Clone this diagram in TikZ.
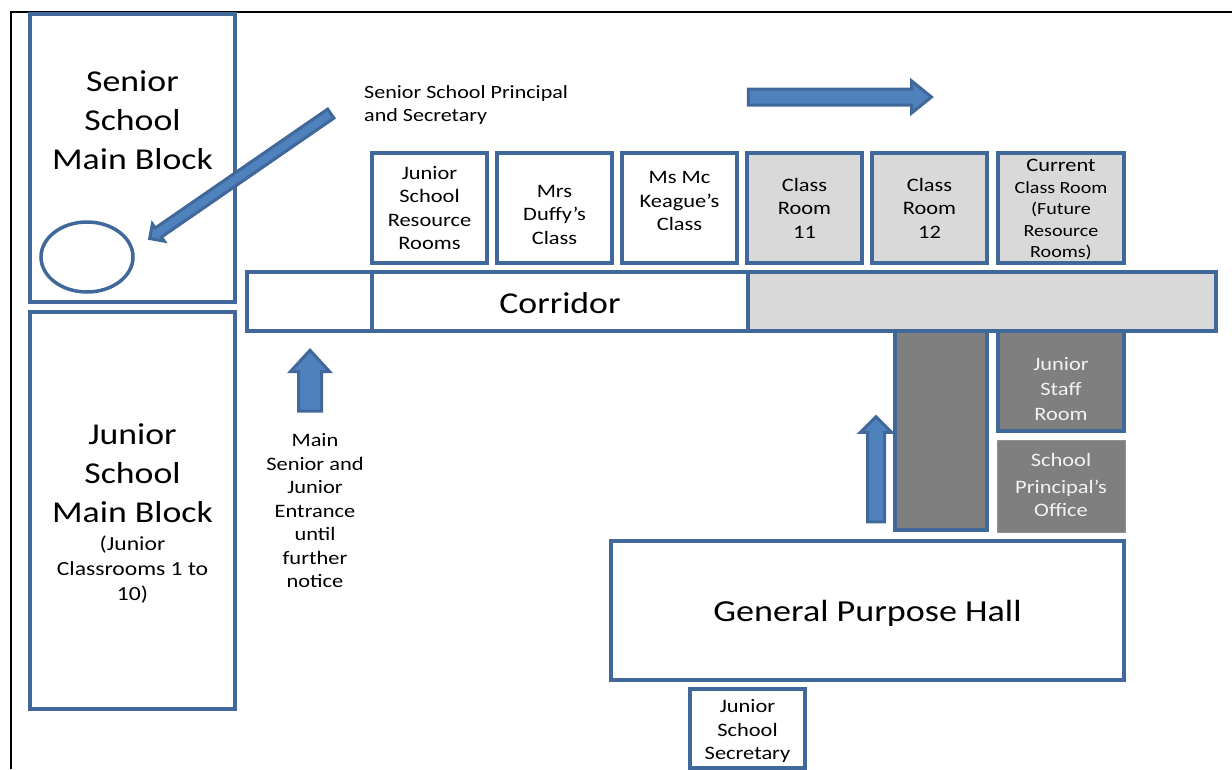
\documentclass[tikz,border=0pt]{standalone}
\usepackage{fontspec}
\setmainfont[FakeStretch=1.18]{Carlito}
\usetikzlibrary{shapes.geometric}
\usetikzlibrary{shapes.arrows}
\definecolor{roomline}{HTML}{41689A}
\definecolor{arrowfill}{HTML}{4F81BD}
\definecolor{lightroom}{HTML}{D9D9D9}
\definecolor{darkroom}{HTML}{7F7F7F}
\tikzset{
    room/.style={draw=roomline, line width=3.5pt, rectangle, fill=white, outer sep=0pt, inner sep=0pt, align=center, font=\fontsize{19}{23.5}\selectfont},
    bigtext/.style={align=center, inner sep=0pt, font=\fontsize{30.3}{39}\selectfont},
    smalltext/.style={align=center, inner sep=0pt, font=\fontsize{19}{23.5}\selectfont},
    blockarrow/.style={shape=single arrow, draw=roomline, line width=3pt, fill=arrowfill, inner xsep=0pt, outer sep=0pt, shape border uses incircle=false}
}
\begin{document}
\begin{tikzpicture}[x=1pt, y=-1pt]
    \useasboundingbox (0, 0) rectangle (1232, 769);

    % The frame
    \coordinate (framebottom) at (10.5, 769);
    \coordinate (framecorner) at (10.5, 12);
    \coordinate (frameright) at (1232, 12);
    \draw[line width=2pt] (framebottom) -- (framecorner) -- (frameright);

    % The main blocks
    \node[room, minimum width=205pt, minimum height=288pt] (seniorblock) at (132.5, 158) {};
    \node[bigtext] (seniorlabel) at (132.5, 120) {Senior\\School\\Main Block};
    \draw[roomline, line width=3.5pt, fill=white] (87, 257) ellipse (46 and 35);
    \node[room, minimum width=205pt, minimum height=397pt] (juniorblock) at (132.5, 510.5) {};
    \node[bigtext] (juniorlabel) at (132.5, 473) {Junior\\School\\Main Block};
    \node[smalltext, font=\fontsize{20}{25}\selectfont] (juniornote) at (132.5, 570) {(Junior\\Classrooms 1 to\\10)};

    % The class rooms
    \node[room, minimum width=115pt, minimum height=110pt] (resource) at (429.5, 208) {Junior\\School\\Resource\\Rooms};
    \node[room, minimum width=115pt, minimum height=110pt] (duffy) at (554.5, 208) {};
    \node[smalltext] (duffylabel) at (554.5, 214.5) {Mrs\\Duffy’s\\Class};
    \node[room, minimum width=115pt, minimum height=110pt] (keague) at (679.5, 208) {};
    \node[smalltext] (keaguelabel) at (679.5, 201) {Ms Mc\\Keague’s\\Class};
    \node[room, fill=lightroom, minimum width=115pt, minimum height=110pt] (eleven) at (804.5, 208) {Class\\Room\\11};
    \node[room, fill=lightroom, minimum width=115pt, minimum height=110pt] (twelve) at (929.5, 208) {Class\\Room\\12};
    \node[room, fill=lightroom, minimum width=126pt, minimum height=110pt] (current) at (1061, 208) {};
    \node[smalltext, font=\fontsize{17}{21.5}\selectfont] (currentlabel) at (1061, 210) {{\fontsize{19}{21.5}\selectfont Current}\\Class Room\\(Future\\Resource\\Rooms)};

    % The corridor
    \node[room, minimum width=125pt, minimum height=59pt] (corridorleft) at (309.5, 301.5) {};
    \node[room, minimum width=376pt, minimum height=59pt] (corridor) at (560, 301.5) {};
    \node[bigtext] (corridorlabel) at (560, 303.5) {Corridor};
    \node[room, fill=lightroom, minimum width=468pt, minimum height=59pt] (corridorright) at (982, 301.5) {};

    % The grey rooms
    \node[room, fill=darkroom, minimum width=92pt, minimum height=199pt] (passage) at (941, 430.5) {};
    \node[room, fill=darkroom, minimum width=126pt, minimum height=100pt] (staffroom) at (1061, 381) {};
    \node[smalltext, text=white!95!black, font=\fontsize{19}{25}\selectfont] (stafflabel) at (1061, 389) {Junior\\Staff\\Room};
    \node[room, draw=darkroom!85!white, line width=1pt, fill=darkroom, minimum width=128pt, minimum height=92pt] (principal) at (1061, 486) {};
    \node[smalltext, text=white!95!black] (officelabel) at (1061, 485) {School\\[3pt]Principal’s\\Office};

    % The hall and the secretary
    \node[room, minimum width=513pt, minimum height=139pt] (hall) at (867.5, 610.5) {};
    \node[bigtext, font=\fontsize{30.6}{39}\selectfont] (halllabel) at (867.5, 613) {General Purpose Hall};
    \node[room, minimum width=115pt, minimum height=79pt] (secretary) at (747.5, 728.5) {};
    \node[smalltext] (secretarylabel) at (747.5, 731) {Junior\\School\\Secretary};

    % The labels
    \node[smalltext, align=left, anchor=west, font=\fontsize{18.7}{23.5}\selectfont] (principallabel) at (364, 105) {Senior School Principal\\and Secretary};
    \node[smalltext] (entrancelabel) at (315, 511) {Main\\Senior and\\Junior\\Entrance\\until\\further\\notice};

    % The arrows
    \node[blockarrow, rotate=214.6, minimum height=220pt, inner ysep=4pt, single arrow head extend=5pt] (officearrow) at (242.5, 174.5) {};
    \node[blockarrow, minimum height=183pt, inner ysep=6.5pt, single arrow head extend=8pt, single arrow tip angle=78] (eastarrow) at (835, 97) {};
    \node[blockarrow, rotate=90, minimum height=61pt, inner ysep=10pt, single arrow head extend=8pt, single arrow tip angle=85] (entrancearrow) at (310, 387) {};
    \node[blockarrow, rotate=90, minimum height=105pt, inner ysep=7pt, single arrow head extend=7pt] (hallarrow) at (876, 473.5) {};
\end{tikzpicture}
\end{document}
